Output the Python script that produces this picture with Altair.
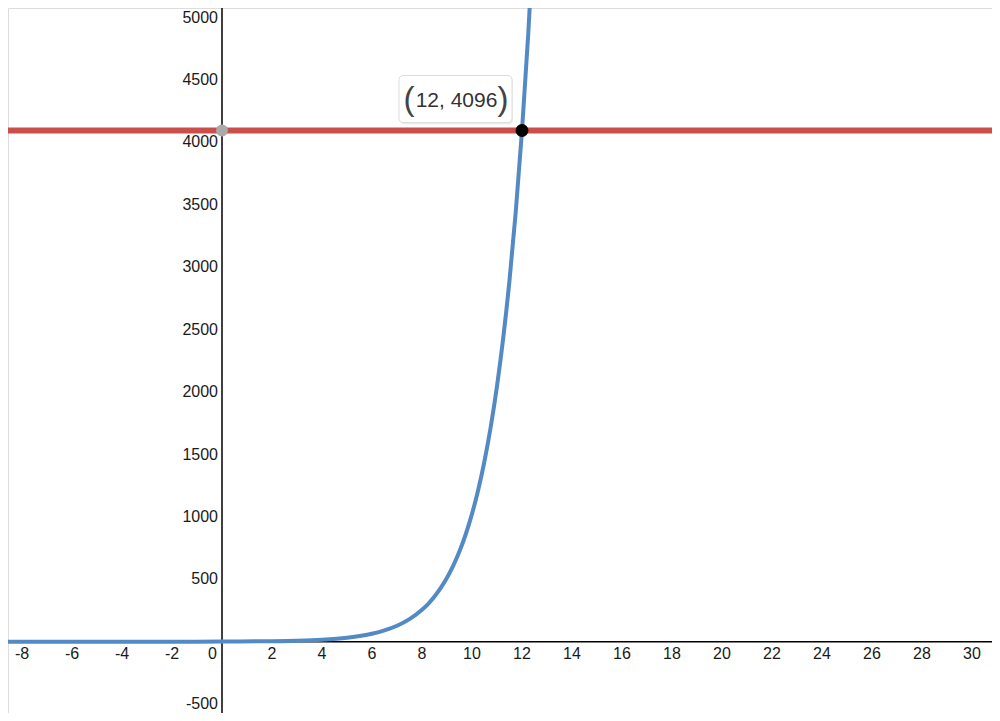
import altair as alt
import pandas as pd

# ---- data ----
curve_x = [-9, -6, -4, -2, 0, 2, 3, 4, 5, 6, 6.5, 7, 7.5, 8, 8.25, 8.5, 8.75, 9, 9.25, 9.5, 9.75,
           10, 10.25, 10.5, 10.75, 11, 11.25, 11.5, 11.75, 12, 12.25, 12.5]
curve_y = [0, 0.02, 0.06, 0.25, 1, 4, 8, 16, 32, 64, 91, 128, 181, 256, 304, 362, 431, 512, 609, 724, 861,
           1024, 1218, 1448, 1722, 2048, 2435, 2896, 3444, 4096, 4871, 5793]
x_ticks = [-8, -6, -4, -2, 2, 4, 6, 8, 10, 12, 14, 16, 18, 20, 22, 24, 26, 28, 30]
y_ticks = [-500, 500, 1000, 1500, 2000, 2500, 3000, 3500, 4000, 4500, 5000]
h_line = [4096]
point_x = [12]
point_y = [4096]
gray_x = [0]
gray_y = [4096]
label_text = ["12, 4096"]

X_DOMAIN = [-8.56, 30.8]
Y_DOMAIN = [-571.3, 5077.7]
xs = alt.Scale(domain=X_DOMAIN, nice=False, zero=False)
ys = alt.Scale(domain=Y_DOMAIN, nice=False, zero=False)
FONT = "Arial, Liberation Sans"

def X():
    return alt.X("x:Q", scale=xs, axis=None)

def Y():
    return alt.Y("y:Q", scale=ys, axis=None)

curve_df = pd.DataFrame({"x": curve_x, "y": curve_y})
xt_df = pd.DataFrame({"x": x_ticks, "y": [0] * len(x_ticks), "t": [str(v) for v in x_ticks]})
yt_df = pd.DataFrame({"x": [0] * len(y_ticks), "y": y_ticks, "t": [str(v) for v in y_ticks]})
zero_df = pd.DataFrame({"x": [0], "y": [0], "t": ["0"]})
h_df = pd.DataFrame({"y": h_line})
pt_df = pd.DataFrame({"x": point_x, "y": point_y, "t": label_text})
gray_df = pd.DataFrame({"x": gray_x, "y": gray_y})

y_axis = alt.Chart(pd.DataFrame({"x": [0]})).mark_rule(color="#000000", strokeWidth=1.5).encode(x=X())
x_axis = alt.Chart(pd.DataFrame({"y": [0]})).mark_rule(color="#000000", strokeWidth=1.5).encode(y=Y())

x_labels = alt.Chart(xt_df).mark_text(
    font=FONT, fontSize=16, color="#1a1a1a", align="center", baseline="middle", dy=12
).encode(x=X(), y=Y(), text="t:N")
y_labels = alt.Chart(yt_df).mark_text(
    font=FONT, fontSize=16, color="#1a1a1a", align="right", baseline="middle", dx=-4
).encode(x=X(), y=Y(), text="t:N")
zero_label = alt.Chart(zero_df).mark_text(
    font=FONT, fontSize=16, color="#1a1a1a", align="right", baseline="middle", dx=-5, dy=12
).encode(x=X(), y=Y(), text="t:N")

red = alt.Chart(h_df).mark_rule(color="#c74440", strokeWidth=6, opacity=0.95).encode(y=Y())

blue = alt.Chart(curve_df).mark_line(
    color="#538ac5", strokeWidth=4, interpolate="monotone", clip=True
).encode(x=X(), y=Y(), order="x:Q")

gray = alt.Chart(gray_df).mark_circle(size=140, color="#aaaaaa", opacity=1).encode(x=X(), y=Y())
black = alt.Chart(pt_df).mark_circle(size=165, color="#000000", opacity=1).encode(x=X(), y=Y())

shadow = alt.Chart(pt_df).mark_rect(
    xOffset=-122, x2Offset=-9, yOffset=-53, y2Offset=-6, cornerRadius=4, fill="#000000", opacity=0.07
).encode(x=X(), x2="x", y=Y(), y2="y")
box = alt.Chart(pt_df).mark_rect(
    xOffset=-123, x2Offset=-10, yOffset=-55, y2Offset=-8, cornerRadius=4,
    fill="#ffffff", stroke="#dddddd", strokeWidth=1, opacity=1
).encode(x=X(), x2="x", y=Y(), y2="y")
lab = alt.Chart(pt_df).mark_text(
    font=FONT, fontSize=21, color="#333333", align="center", baseline="middle", dx=-65.5, dy=-30
).encode(x=X(), y=Y(), text="t:N")
lpar = alt.Chart(pt_df).mark_text(
    font=FONT, fontSize=33, color="#444444", align="center", baseline="middle", dx=-113, dy=-31
).encode(x=X(), y=Y(), text=alt.value("("))
rpar = alt.Chart(pt_df).mark_text(
    font=FONT, fontSize=33, color="#444444", align="center", baseline="middle", dx=-19, dy=-31
).encode(x=X(), y=Y(), text=alt.value(")"))

chart = alt.layer(
    y_axis, x_axis, x_labels, y_labels, zero_label, red, blue, gray, black,
    shadow, box, lab, lpar, rpar
).properties(
    width=984, height=705, padding=0, autosize="none"
).configure_view(strokeWidth=0, stroke="transparent").configure(background="#ffffff")

chart.save("out.html", embed_options={"renderer": "svg", "actions": False})
